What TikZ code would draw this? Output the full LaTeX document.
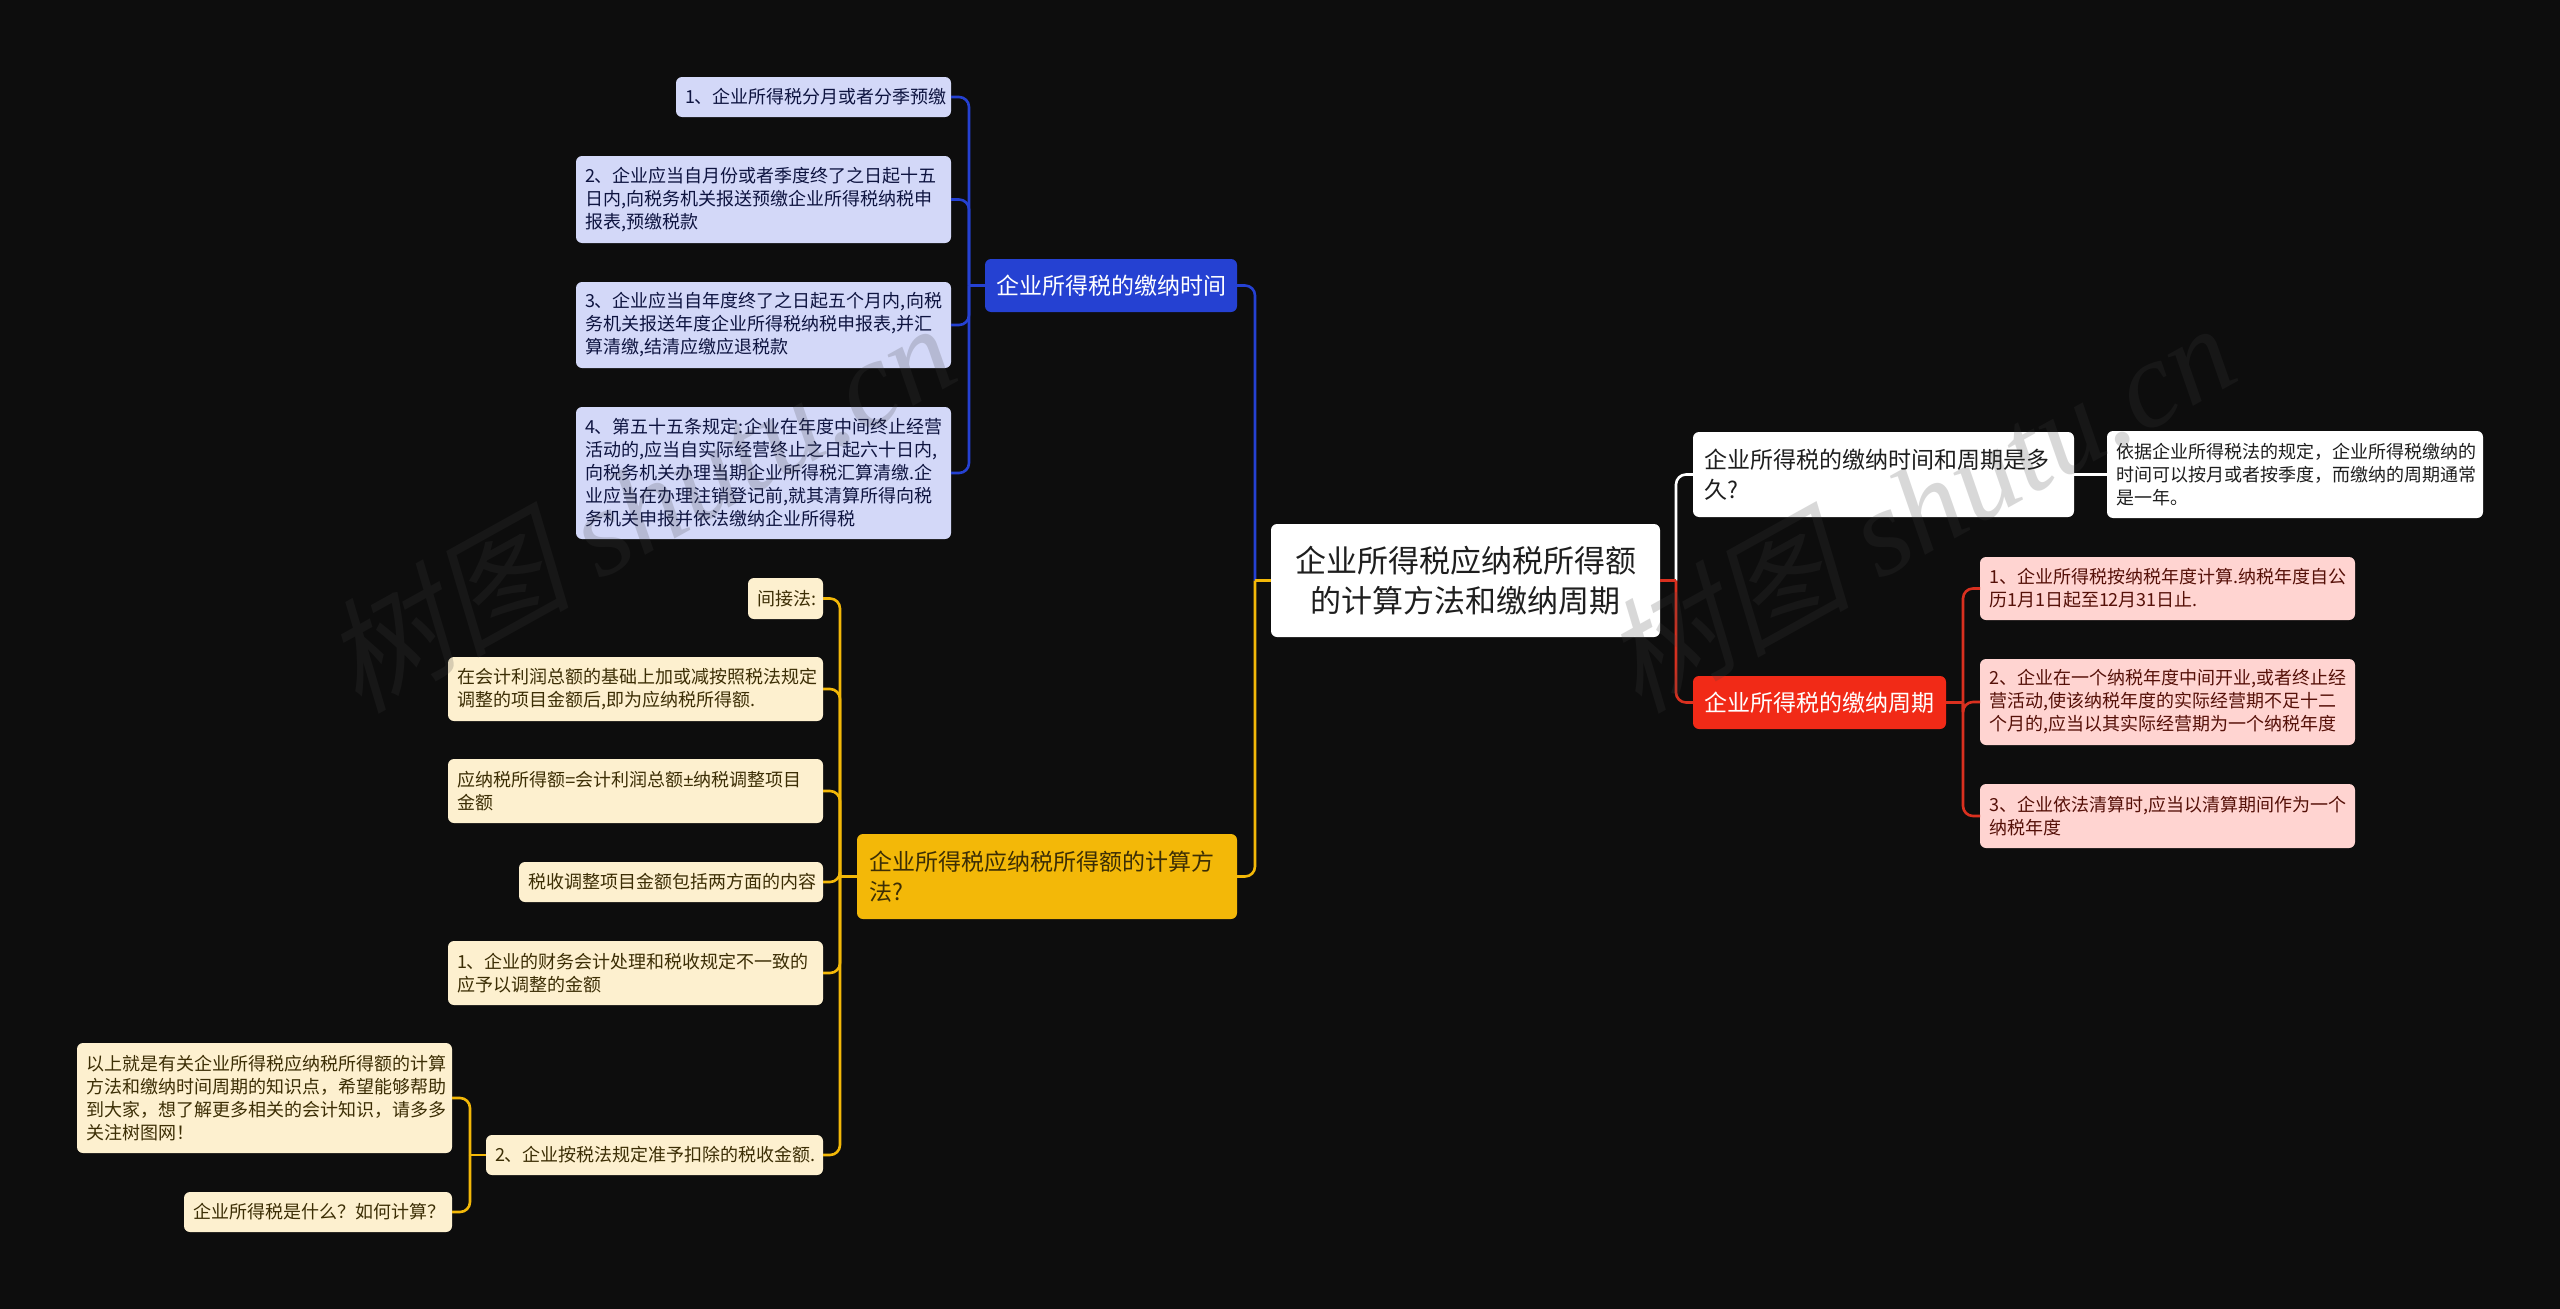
\documentclass[tikz,border=0pt]{standalone}
\usepackage{fontspec}
\setmainfont{Noto Sans CJK SC}
\newfontfamily\wmcjk[FakeSlant=0.22]{Noto Sans CJK SC}
\newfontfamily\wmlat{Liberation Serif}
\newfontfamily\latsym{Liberation Sans}
\definecolor{bgc}{HTML}{0D0D0D}
\definecolor{bluec}{HTML}{2541D2}
\definecolor{bluel}{HTML}{D3D8F8}
\definecolor{bluet}{HTML}{0E1440}
\definecolor{redc}{HTML}{F12A17}
\definecolor{redline}{HTML}{D9301F}
\definecolor{redl}{HTML}{FFD4D1}
\definecolor{redt}{HTML}{551008}
\definecolor{yelc}{HTML}{F3B808}
\definecolor{yell}{HTML}{FDF0CF}
\definecolor{yelt}{HTML}{3C2E05}
\definecolor{inkc}{HTML}{1E1E1E}
\tikzset{
  bx/.style n args={3}{shape=rectangle,rounded corners=6pt,outer sep=0pt,inner ysep=0pt,inner xsep=#3pt,
    minimum width=#1pt,minimum height=#2pt,text width=\dimexpr#1pt-#3pt-#3pt\relax,align=left},
  txsmall/.style={font=\fontsize{18}{23}\selectfont},
  txmid/.style={font=\fontsize{23}{30}\selectfont},
  lb/.style={txsmall,fill=bluel,text=bluet},
  lr/.style={txsmall,fill=redl,text=redt},
  ly/.style={txsmall,fill=yell,text=yelt},
  lw/.style={txsmall,fill=white,text=inkc},
  conn/.style={line width=2.6pt},
  elbow/.style={conn,rounded corners=10pt},
}
\begin{document}
\begin{tikzpicture}[x=1pt,y=-1pt]
\useasboundingbox (0,0) rectangle (2560,1309);
\fill[bgc] (0,0) rectangle (2560,1309);
% root
\node[bx={389}{113}{0},fill=white,text=inkc,font=\fontsize{31}{40}\selectfont,align=center] (root) at (1465.5,580.5) {企业所得税应纳税所得额\\的计算方法和缴纳周期};
% level one
\node[bx={252}{53}{11},txmid,fill=bluec,text=white] (blue) at (1111,285.5) {企业所得税的缴纳时间};
\node[bx={380}{85}{12},txmid,fill=yelc,text=yelt] (yel) at (1047,876.5) {企业所得税应纳税所得额的计算方\\法?};
\node[bx={381}{85}{11},txmid,fill=white,text=inkc] (q) at (1883.5,474.5) {企业所得税的缴纳时间和周期是多\\久?};
\node[bx={253}{53}{11},txmid,fill=redc,text=white] (red) at (1819.5,702.5) {企业所得税的缴纳周期};
% blue children
\node[bx={275}{40}{9},lb] (n1) at (813.5,97) {1、企业所得税分月或者分季预缴};
\node[bx={375}{87}{9},lb] (n2) at (763.5,199.5) {2、企业应当自月份或者季度终了之日起十五\\日内,向税务机关报送预缴企业所得税纳税申\\报表,预缴税款};
\node[bx={375}{86}{9},lb] (n3) at (763.5,325) {3、企业应当自年度终了之日起五个月内,向税\\务机关报送年度企业所得税纳税申报表,并汇\\算清缴,结清应缴应退税款};
\node[bx={375}{132}{9},lb] (n4) at (763.5,473) {4、第五十五条规定:企业在年度中间终止经营\\活动的,应当自实际经营终止之日起六十日内,\\向税务机关办理当期企业所得税汇算清缴.企\\业应当在办理注销登记前,就其清算所得向税\\务机关申报并依法缴纳企业所得税};
% yellow children
\node[bx={75}{41}{9},ly] (l1) at (785.5,598.5) {间接法:};
\node[bx={375}{64}{9},ly] (l2) at (635.5,689) {在会计利润总额的基础上加或减按照税法规定\\调整的项目金额后,即为应纳税所得额.};
\node[bx={375}{64}{9},ly] (l3) at (635.5,791) {应纳税所得额{\latsym =}会计利润总额{\latsym ±}纳税调整项目\\金额};
\node[bx={304}{40}{9},ly] (l4) at (671,882) {税收调整项目金额包括两方面的内容};
\node[bx={375}{64}{9},ly] (l5) at (635.5,973) {1、企业的财务会计处理和税收规定不一致的\\应予以调整的金额};
\node[bx={337}{40}{9},ly] (l6) at (654.5,1155) {2、企业按税法规定准予扣除的税收金额.};
\node[bx={375}{110}{9},ly] (l6a) at (264.5,1098) {以上就是有关企业所得税应纳税所得额的计算\\方法和缴纳时间周期的知识点，希望能够帮助\\到大家，想了解更多相关的会计知识，请多多\\关注树图网！};
\node[bx={268}{40}{9},ly] (l6b) at (318,1212) {企业所得税是什么？如何计算？};
% white child
\node[bx={376}{87}{9},lw] (ans) at (2295,474.5) {依据企业所得税法的规定，企业所得税缴纳的\\时间可以按月或者按季度，而缴纳的周期通常\\是一年。};
% red children
\node[bx={375}{63}{9},lr] (r1) at (2167.5,588.5) {1、企业所得税按纳税年度计算.纳税年度自公\\历1月1日起至12月31日止.};
\node[bx={375}{86}{9},lr] (r2) at (2167.5,702) {2、企业在一个纳税年度中间开业,或者终止经\\营活动,使该纳税年度的实际经营期不足十二\\个月的,应当以其实际经营期为一个纳税年度};
\node[bx={375}{64}{9},lr] (r3) at (2167.5,816) {3、企业依法清算时,应当以清算期间作为一个\\纳税年度};
% junctions
\coordinate (tl) at (1255,580.5);
\coordinate (tr) at (1676,580.5);
\coordinate (tb) at (969,285.5);
\coordinate (ty) at (840,876.5);
\coordinate (ts) at (470,1155);
\coordinate (tq) at (1963,702.5);
% root connectors
\draw[elbow,bluec] (tl) |- (blue.east);
\draw[elbow,yelc] (tl) |- (yel.east);
\draw[conn,yelc] (root.west) -- (tl);
\draw[elbow,white] (tr) |- (q.west);
\draw[elbow,redline] (tr) |- (red.west);
\draw[conn,redline] (root.east) -- (tr);
\draw[conn,white] (q.east) -- (ans.west);
% blue branch
\draw[conn,bluec] (blue.west) -- (tb);
\foreach \c in {n1,n2,n3,n4} \draw[elbow,bluec] (tb) |- (\c.east);
% yellow branch
\draw[conn,yelc] (yel.west) -- (ty);
\foreach \c in {l1,l2,l3,l4,l5,l6} \draw[elbow,yelc] (ty) |- (\c.east);
\draw[conn,yelc] (l6.west) -- (ts);
\foreach \c in {l6a,l6b} \draw[elbow,yelc] (ts) |- (\c.east);
% red branch
\draw[conn,redline] (red.east) -- (tq);
\foreach \c in {r1,r2,r3} \draw[elbow,redline] (tq) |- (\c.west);
% watermarks
\foreach \wx/\nm in {638/wa,1918/wb}
  \node[rotate=29,text=black!75!white,text opacity=0.2,font=\fontsize{124}{124}\selectfont] (\nm) at (\wx,505) {{\wmcjk 树图} {\wmlat\itshape shutu.cn}};
\end{tikzpicture}
\end{document}
